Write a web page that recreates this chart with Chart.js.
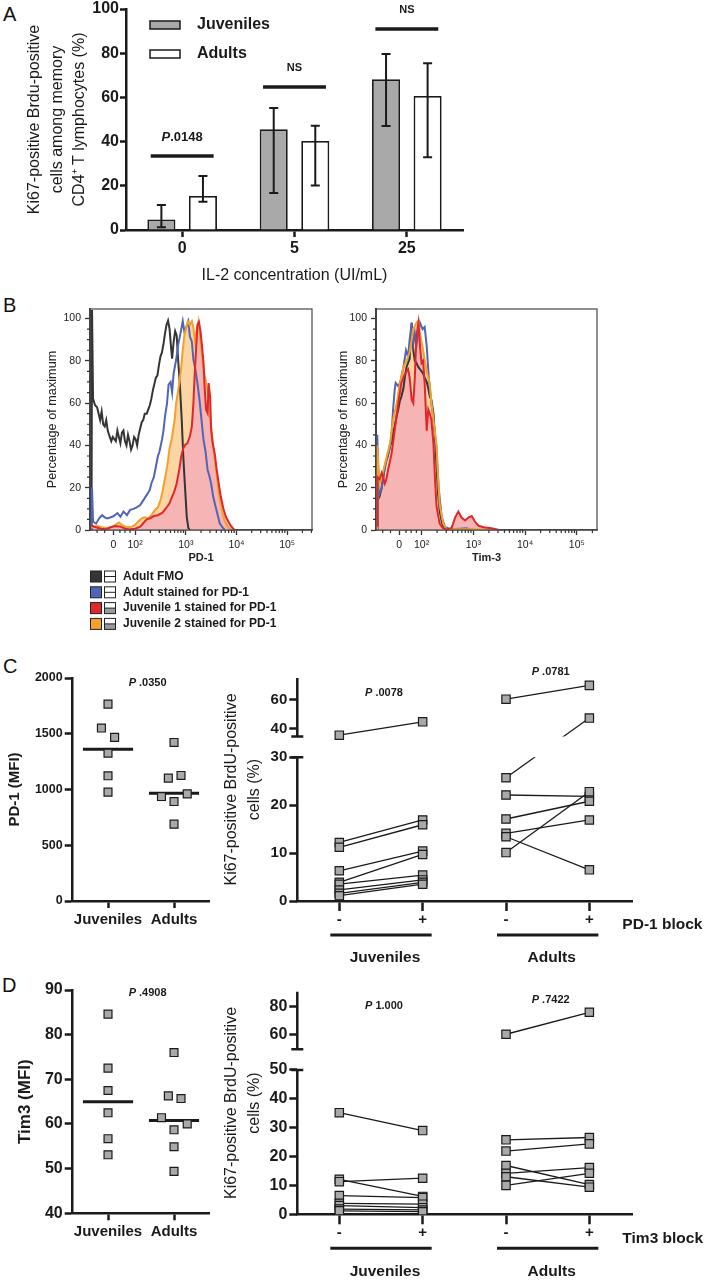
<!DOCTYPE html>
<html>
<head>
<meta charset="utf-8">
<script src="https://cdn.jsdelivr.net/npm/chart.js@4.4.1/dist/chart.umd.min.js"></script>
<style>
  body { margin: 0; background: #fff; }
  #page { position: relative; width: 709px; height: 1280px; font-family: "Liberation Sans", Arial, sans-serif; overflow: hidden; }
  canvas { position: absolute; }
  .letter { position: absolute; font-size: 20px; line-height: 1; color: #111; }
</style>
</head>
<body>
<div id="page">
  <div class="letter" style="left:3px;top:4px">A</div>
  <div class="letter" style="left:3px;top:295px">B</div>
  <div class="letter" style="left:3px;top:656px">C</div>
  <div class="letter" style="left:2px;top:975px">D</div>
  <canvas id="chartA" width="500" height="285" style="left:0;top:0"></canvas>
  <canvas id="histPd1" width="330" height="340" style="left:0;top:295px"></canvas>
  <canvas id="histTim3" width="389" height="280" style="left:320px;top:295px"></canvas>
  <canvas id="dotPd1" width="225" height="300" style="left:0;top:640px"></canvas>
  <canvas id="pairPd1" width="494" height="330" style="left:215px;top:640px"></canvas>
  <canvas id="dotTim3" width="225" height="300" style="left:0;top:950px"></canvas>
  <canvas id="pairTim3" width="494" height="330" style="left:215px;top:950px"></canvas>
</div>
<script>
// ---------- A: IL-2 proliferation ----------
const il2Doses = ['0', '5', '25'];
const juvMean = [4.8, 45.6, 68.2];
const juvLow = [1.2, 16.7, 47.1];
const juvHigh = [11.3, 55.2, 79.6];
const adultMean = [15.4, 40.3, 60.6];
const adultLow = [12.8, 20.1, 32.9];
const adultHigh = [24.4, 47.2, 75.4];
const sigLevel = [33.5, 64.7, 91.0];
const sigText = ['P.0148', 'NS', 'NS'];

// ---------- B: histograms, x in display decades, y in % of max ----------
const histTicks = [1.57, 2, 3, 4, 5];
const histTickLabels = ['0', '10²', '10³', '10⁴', '10⁵'];

const pd1HistFmo = [[1.14,0],[1.15,104],[1.17,62],[1.21,59],[1.25,58],[1.28,55],[1.31,52],[1.34,56],[1.37,50],[1.40,49],[1.43,52],[1.46,47],[1.50,44],[1.53,42],[1.56,44],[1.59,43],[1.62,42],[1.65,47],[1.68,44],[1.71,41],[1.74,46],[1.77,47],[1.80,42],[1.83,40],[1.86,45],[1.89,42],[1.92,38],[1.95,40],[1.98,44],[2.01,43],[2.04,40],[2.07,45],[2.10,48],[2.13,51],[2.16,52],[2.19,55],[2.23,55],[2.26,57],[2.29,59],[2.32,62],[2.35,66],[2.38,69],[2.41,72],[2.44,73],[2.47,78],[2.50,82],[2.53,84],[2.56,88],[2.59,93],[2.62,97],[2.65,99],[2.68,95],[2.71,86],[2.73,81],[2.76,89],[2.79,94],[2.82,92],[2.85,80],[2.88,70],[2.92,52],[2.95,35],[2.99,18],[3.02,6],[3.05,1],[3.08,0]];
const pd1HistAdult = [[1.14,0],[1.15,20],[1.17,4],[1.23,3],[1.29,5.5],[1.35,7],[1.40,6],[1.45,5.5],[1.52,6],[1.58,6.6],[1.65,8],[1.71,6.3],[1.77,8.7],[1.84,7],[1.90,9.5],[1.97,10],[2.03,10.7],[2.10,11.8],[2.16,14],[2.23,16.6],[2.29,19],[2.32,22],[2.37,25],[2.41,30],[2.45,35],[2.48,37],[2.53,42.7],[2.56,47],[2.59,53.7],[2.63,60],[2.66,68.7],[2.70,70],[2.73,65],[2.76,74],[2.81,80.6],[2.85,87.7],[2.89,92.4],[2.94,98.7],[2.97,94],[3.01,96],[3.05,98.7],[3.08,91.6],[3.12,89],[3.15,80.6],[3.19,75.8],[3.23,69.5],[3.27,61.6],[3.31,52],[3.35,42.6],[3.39,37],[3.43,28.4],[3.46,26],[3.50,22],[3.54,15.8],[3.58,11.8],[3.63,7],[3.67,3.2],[3.72,1.3],[3.77,0]];
const pd1HistJuv1 = [[1.14,2],[1.16,1.9],[1.23,1.3],[1.32,0.6],[1.42,0.3],[1.52,1.3],[1.61,1.9],[1.71,1.6],[1.81,0.6],[1.90,0.3],[2.00,0.6],[2.10,1.6],[2.16,3.2],[2.23,5],[2.29,5.5],[2.37,6.6],[2.45,7],[2.54,8.2],[2.61,10.3],[2.68,12.6],[2.73,15.8],[2.77,18],[2.82,22],[2.87,28.4],[2.91,34.8],[2.95,38.7],[2.99,40.3],[3.03,41],[3.08,44.2],[3.12,49],[3.15,60],[3.18,75.8],[3.21,88.5],[3.23,97],[3.26,98.3],[3.29,94],[3.32,87],[3.35,79],[3.37,68],[3.40,57],[3.43,55.3],[3.45,69.5],[3.48,63],[3.50,47.4],[3.53,41],[3.57,36.3],[3.61,28.4],[3.65,22],[3.69,15.8],[3.74,10.3],[3.79,6.3],[3.84,4],[3.89,1.9],[3.95,0.3],[3.98,0]];
const pd1HistJuv2 = [[1.14,1],[1.16,1.3],[1.26,1.9],[1.35,1.3],[1.45,0.8],[1.55,1.6],[1.61,2.4],[1.68,3.5],[1.74,2.4],[1.81,1.6],[1.87,1.3],[1.94,1.6],[2.00,2.4],[2.06,4],[2.13,5.5],[2.19,6],[2.26,5.5],[2.32,7],[2.39,9.5],[2.45,10.7],[2.50,14],[2.54,18],[2.57,22],[2.61,27],[2.65,33],[2.68,38.7],[2.72,42.7],[2.75,47.4],[2.78,52],[2.81,60],[2.85,66],[2.88,71],[2.91,77],[2.94,85],[2.97,91.6],[3.01,96],[3.04,98.7],[3.08,97],[3.12,98.7],[3.15,95.6],[3.18,89],[3.21,94],[3.25,98.7],[3.28,91.6],[3.32,82],[3.35,75.8],[3.39,71],[3.43,66],[3.46,58.5],[3.50,49],[3.54,39.5],[3.58,31.6],[3.62,23.7],[3.66,15.8],[3.71,9.5],[3.76,4.7],[3.81,1.9],[3.87,0.3],[3.92,0]];

const tim3HistFmo = [[1.14,0],[1.15,14],[1.19,16],[1.23,20],[1.26,25],[1.29,30],[1.32,33],[1.35,35],[1.39,40],[1.42,41],[1.45,46],[1.48,49],[1.52,54],[1.55,57],[1.58,61],[1.61,63],[1.65,67],[1.68,72.7],[1.71,77],[1.74,79],[1.77,81],[1.79,90],[1.81,98],[1.84,85],[1.87,80],[1.90,79],[1.94,77],[1.97,76],[2.03,74],[2.06,72],[2.10,70],[2.13,67],[2.16,63],[2.19,61.6],[2.23,55],[2.26,44],[2.29,30],[2.32,17],[2.35,9],[2.39,4],[2.42,1.5],[2.48,0.5],[2.55,0]];
const tim3HistAdult = [[1.14,0],[1.145,45],[1.17,16],[1.23,20],[1.26,25],[1.32,33],[1.39,39],[1.42,45],[1.45,57],[1.48,66],[1.50,69.5],[1.55,68],[1.59,70],[1.65,77],[1.70,85],[1.74,82],[1.77,90],[1.81,98],[1.84,88],[1.87,93],[1.90,87],[1.97,98],[2.02,95],[2.06,96],[2.10,87],[2.14,72],[2.19,60],[2.23,52],[2.29,38],[2.33,20],[2.39,6],[2.45,1.6],[2.55,0.3],[2.74,0.6],[2.87,0.8],[2.94,0.3],[3.00,0]];
const tim3HistJuv1 = [[1.14,2],[1.15,25],[1.19,24],[1.23,27],[1.26,25],[1.29,22],[1.32,24],[1.35,28],[1.42,36],[1.48,47],[1.55,60],[1.61,69.5],[1.68,74],[1.74,76],[1.77,72],[1.81,61.6],[1.84,60],[1.87,72],[1.90,91.6],[1.94,98],[1.97,87],[2.00,79],[2.03,80],[2.06,69.5],[2.10,47],[2.13,57],[2.16,55],[2.19,52],[2.23,41],[2.26,24],[2.29,11],[2.35,3],[2.42,0.8],[2.48,0.3],[2.58,1],[2.65,6],[2.71,8.7],[2.77,6],[2.84,4.5],[2.91,6],[2.97,6.6],[3.03,4],[3.10,2],[3.20,1.3],[3.35,0.8],[3.50,0]];
const tim3HistJuv2 = [[1.14,0],[1.145,40],[1.19,22],[1.26,28],[1.32,34],[1.39,41],[1.45,52],[1.52,60],[1.58,69],[1.65,77],[1.71,80],[1.77,84],[1.84,95],[1.90,98],[1.94,99],[1.97,93],[2.03,85],[2.10,75],[2.16,69],[2.19,60],[2.23,52],[2.29,40],[2.32,25],[2.35,12],[2.42,3],[2.48,0.5],[2.61,0.3],[3.00,0.3],[3.50,0]];

const histLegend = ['Adult FMO', 'Adult stained for PD-1', 'Juvenile 1 stained for PD-1', 'Juvenile 2 stained for PD-1'];

// ---------- C / D: MFI dot plots ----------
const groupNames = ['Juveniles', 'Adults'];
const pd1MfiJuv = [1766, 1551, 1467, 1326, 1123, 976];
const pd1MfiJuvDodge = [0, -0.1, 0.1, 0, 0, 0];
const pd1MfiAdult = [1422, 1126, 1102, 961, 937, 892, 689];
const pd1MfiAdultDodge = [0, 0.106, -0.086, 0.2, -0.19, 0, 0];
const pd1MfiCenter = [1362, 967];

const tim3MfiJuv = [84.6, 72.5, 67.5, 62.5, 56.7, 53.1];
const tim3MfiJuvDodge = [0, 0, 0, 0, 0, 0];
const tim3MfiAdult = [76.0, 66.3, 65.7, 61.4, 60.0, 58.7, 54.9, 49.4];
const tim3MfiAdultDodge = [0, -0.086, 0.106, -0.19, 0.2, 0, 0, 0];
const tim3MfiCenter = [65, 60.8];

// ---------- C / D: blocking, paired values (% Ki67+ BrdU+) ----------
const blockTickLabels = ['-', '+', '-', '+'];
const pd1BlockJuvMinus = [35.3, 12.2, 11.2, 6.3, 3.9, 3.5, 2.3, 1.6, 1.1];
const pd1BlockJuvPlus = [44.6, 16.9, 15.9, 10.4, 9.7, 5.4, 4.4, 3.9, 3.5];
const pd1BlockAdultMinus = [60.4, 25.7, 22.1, 17.1, 14.1, 13.4, 10.1];
const pd1BlockAdultPlus = [70.0, 47.2, 21.8, 20.8, 16.9, 6.5, 22.8];
const pd1BlockTicks = [0, 10, 20, 30, 40, 60];

const tim3BlockJuvMinus = [35.2, 12.1, 11.3, 6.5, 3.8, 3.0, 1.8, 1.2];
const tim3BlockJuvPlus = [29.0, 6.2, 12.5, 5.8, 3.5, 2.3, 1.5, 0.9];
const tim3BlockAdultMinus = [60.5, 25.8, 21.9, 16.9, 14.2, 13.0, 10.0];
const tim3BlockAdultPlus = [76.0, 26.6, 24.4, 10.3, 16.2, 9.4, 14.2];
const tim3BlockTicks = [0, 10, 20, 30, 40, 50, 60, 80];

// ================= drawing =================
const INK = '#1a1a1a';
const MARK = '#a9a9a9';
const FAMILY = '"Liberation Sans", Arial, Helvetica, sans-serif';
Chart.defaults.font.family = FAMILY;
Chart.defaults.color = INK;
Chart.defaults.animation = false;
Chart.defaults.plugins.legend.display = false;
Chart.defaults.plugins.tooltip.enabled = false;

const tickList = vals => s => { s.ticks = vals.map(v => ({ value: v })); };
const noPad = s => { s.paddingLeft = s.paddingRight = s.paddingTop = s.paddingBottom = 0; };

function drawPLabel(ctx, text, cx, cy, size, restWeight) {
  ctx.save();
  ctx.textBaseline = 'middle';
  ctx.textAlign = 'left';
  ctx.fillStyle = INK;
  const head = text.startsWith('P') ? 'P' : '';
  const rest = head ? text.slice(1) : text;
  ctx.font = `italic bold ${size}px ${FAMILY}`;
  const wh = head ? ctx.measureText(head).width : 0;
  ctx.font = `${restWeight} ${size}px ${FAMILY}`;
  const wr = ctx.measureText(rest).width;
  let x = cx - (wh + wr) / 2;
  if (head) {
    ctx.font = `italic bold ${size}px ${FAMILY}`;
    ctx.fillText(head, x, cy);
    x += wh;
  }
  ctx.font = `${restWeight} ${size}px ${FAMILY}`;
  ctx.fillText(rest, x, cy);
  ctx.restore();
}

// ---- A ----
const panelAExtras = {
  id: 'panelAExtras',
  afterDatasetsDraw(chart) {
    const { ctx, scales: { x, y } } = chart;
    const lows = [juvLow, adultLow], highs = [juvHigh, adultHigh];
    ctx.save();
    ctx.strokeStyle = INK;
    ctx.lineWidth = 2;
    [0, 1].forEach(di => {
      chart.getDatasetMeta(di).data.forEach((bar, i) => {
        const y0 = y.getPixelForValue(lows[di][i]), y1 = y.getPixelForValue(highs[di][i]);
        ctx.beginPath();
        ctx.moveTo(bar.x, y0); ctx.lineTo(bar.x, y1);
        ctx.moveTo(bar.x - 4.5, y0); ctx.lineTo(bar.x + 4.5, y0);
        ctx.moveTo(bar.x - 4.5, y1); ctx.lineTo(bar.x + 4.5, y1);
        ctx.stroke();
      });
    });
    const catW = x.getPixelForValue(1) - x.getPixelForValue(0);
    ctx.lineWidth = 3.5;
    il2Doses.forEach((d, i) => {
      const cx = x.getPixelForValue(i), sy = y.getPixelForValue(sigLevel[i]);
      ctx.beginPath();
      ctx.moveTo(cx - 0.28 * catW, sy); ctx.lineTo(cx + 0.28 * catW, sy);
      ctx.stroke();
      drawPLabel(ctx, sigText[i], cx, sy - 19, sigText[i] === 'NS' ? 11 : 13, 'bold');
    });
    // legend
    const rows = [['Juveniles', MARK, 25], ['Adults', '#fff', 54]];
    ctx.lineWidth = 1.5;
    ctx.font = `bold 16px ${FAMILY}`;
    ctx.textBaseline = 'middle';
    rows.forEach(([name, fill, cy]) => {
      ctx.fillStyle = fill;
      ctx.fillRect(150, cy - 4, 30, 8);
      ctx.strokeRect(150, cy - 4, 30, 8);
      ctx.fillStyle = INK;
      ctx.fillText(name, 197, cy);
    });
    ctx.restore();
  }
};

new Chart(document.getElementById('chartA'), {
  type: 'bar',
  data: {
    labels: il2Doses,
    datasets: [
      { label: 'Juveniles', data: juvMean, backgroundColor: MARK, borderColor: INK, borderWidth: 1.8 },
      { label: 'Adults', data: adultMean, backgroundColor: '#fff', borderColor: INK, borderWidth: 1.8 }
    ]
  },
  options: {
    responsive: false,
    layout: { padding: { top: 9, right: 37, left: 0, bottom: 0 } },
    datasets: { bar: { categoryPercentage: 0.74, barPercentage: 0.675 } },
    scales: {
      x: {
        grid: { offset: false, drawOnChartArea: false, tickLength: 7, tickWidth: 2.5, tickColor: INK },
        border: { width: 2.5, color: INK },
        ticks: { font: { size: 16, weight: 'bold' }, padding: 2, color: INK },
        title: { display: true, text: 'IL-2 concentration (UI/mL)', font: { size: 16 }, padding: { top: 4, bottom: 0 }, color: INK },
        afterFit: s => { noPad(s); s.height = 55; }
      },
      y: {
        min: 0, max: 100,
        ticks: { stepSize: 20, font: { size: 16, weight: 'bold' }, padding: 1, color: INK },
        grid: { drawOnChartArea: false, tickLength: 6, tickWidth: 2.5, tickColor: INK },
        border: { width: 2.5, color: INK },
        title: {
          display: true,
          text: ['Ki67-positive Brdu-positive', 'cells among memory', 'CD4⁺ T lymphocytes (%)'],
          font: { size: 16, lineHeight: 1.38 }, padding: { top: 24, bottom: 0 }, color: INK
        },
        afterFit: s => { noPad(s); s.width = 126; }
      }
    }
  },
  plugins: [panelAExtras]
});

// ---- B ----
const FMO_C = '#353535', BLUE_C = '#4f66b6', RED_C = '#e2262a', ORANGE_C = '#f5a02a';

const histDecor = {
  id: 'histDecor',
  afterDraw(chart) {
    const { ctx, chartArea: a, scales: { x, y } } = chart;
    ctx.save();
    ctx.strokeStyle = '#555';
    ctx.lineWidth = 1.3;
    ctx.strokeRect(a.left, a.top, a.right - a.left, a.bottom - a.top);
    ctx.strokeStyle = '#333';
    ctx.lineWidth = 1.2;
    ctx.beginPath();
    for (let v = 5; v < 105; v += 5) {
      if (v % 20 === 0) continue;
      const py = y.getPixelForValue(v);
      ctx.moveTo(a.left, py); ctx.lineTo(a.left - 3, py);
    }
    for (let d = 2; d <= 5; d++) {
      for (let k = 2; k <= 9; k++) {
        const u = d + Math.log10(k);
        if (u > x.max) break;
        const px = x.getPixelForValue(u);
        ctx.moveTo(px, a.bottom); ctx.lineTo(px, a.bottom + 3);
      }
    }
    [1.25, 1.4, 1.7, 1.8, 1.9].forEach(u => {
      const px = x.getPixelForValue(u);
      ctx.moveTo(px, a.bottom); ctx.lineTo(px, a.bottom + 3);
    });
    ctx.stroke();
    ctx.restore();
  }
};

const histLegendPlugin = {
  id: 'histLegend',
  afterDraw(chart) {
    const ctx = chart.ctx;
    const colors = [FMO_C, BLUE_C, RED_C, ORANGE_C];
    ctx.save();
    ctx.font = `bold 12px ${FAMILY}`;
    ctx.textBaseline = 'middle';
    ctx.lineWidth = 1;
    histLegend.forEach((name, i) => {
      const cy = 281.5 + i * 15.8;
      ctx.fillStyle = colors[i];
      ctx.fillRect(90.5, cy - 5.5, 11, 11);
      ctx.strokeStyle = '#222';
      ctx.strokeRect(90.5, cy - 5.5, 11, 11);
      ctx.fillStyle = '#fff';
      ctx.fillRect(104.5, cy - 5.5, 11, 11);
      if (i >= 2) { ctx.fillStyle = '#9a9a9a'; ctx.fillRect(104.5, cy, 11, 5.5); }
      ctx.strokeRect(104.5, cy - 5.5, 11, 11);
      ctx.beginPath(); ctx.moveTo(104.5, cy); ctx.lineTo(115.5, cy); ctx.stroke();
      ctx.fillStyle = INK;
      ctx.fillText(name, 123, cy);
    });
    ctx.restore();
  }
};

function histChart(id, o) {
  const pts = arr => arr.map(p => ({ x: p[0], y: p[1] }));
  const line = (arr, color, order) => ({ data: pts(arr), showLine: true, pointRadius: 0, borderColor: color, borderWidth: 2, tension: 0, fill: false, order });
  const area = (arr, color, order) => ({ data: pts(arr), showLine: true, pointRadius: 0, borderWidth: 0, borderColor: 'rgba(0,0,0,0)', backgroundColor: color, fill: 'origin', order });
  new Chart(document.getElementById(id), {
    type: 'scatter',
    data: {
      datasets: [
        area(o.juv2, '#fcd5a4', 6),
        area(o.juv1, '#f6b4b4', 5),
        line(o.fmo, FMO_C, 4),
        line(o.adult, BLUE_C, 3),
        line(o.juv2, ORANGE_C, 2),
        line(o.juv1, RED_C, 1)
      ]
    },
    options: {
      responsive: false,
      layout: { padding: o.padding },
      scales: {
        x: {
          type: 'linear', min: o.xMin, max: o.xMax,
          afterBuildTicks: tickList(histTicks),
          ticks: { callback: (v, i) => histTickLabels[i], font: { size: 10.5 }, color: '#222', autoSkip: false, maxRotation: 0, padding: 4 },
          grid: { drawOnChartArea: false, tickLength: 5, tickWidth: 1.3, tickColor: '#333' },
          border: { width: 1.5, color: '#333' },
          title: { display: true, text: o.marker, font: { size: 11, weight: 'bold' }, padding: { top: 0, bottom: 10 }, color: '#222' },
          afterFit: s => { noPad(s); s.height = 45; }
        },
        y: {
          min: 0, max: 104.5,
          afterBuildTicks: tickList([0, 20, 40, 60, 80, 100]),
          ticks: { font: { size: 10.5 }, color: '#222', padding: 4 },
          grid: { drawOnChartArea: false, tickLength: 5, tickWidth: 1.3, tickColor: '#333' },
          border: { width: 2, color: '#222' },
          title: { display: true, text: 'Percentage of maximum', font: { size: 12.7 }, padding: { top: o.titlePad, bottom: 0 }, color: '#222' },
          afterFit: s => { noPad(s); s.width = o.yWidth; }
        }
      }
    },
    plugins: o.plugins
  });
}

histChart('histPd1', {
  fmo: pd1HistFmo, adult: pd1HistAdult, juv1: pd1HistJuv1, juv2: pd1HistJuv2, marker: 'PD-1',
  xMin: 1.11, xMax: 5.49, yWidth: 90, titlePad: 45,
  padding: { top: 14, right: 18, left: 0, bottom: 60 },
  plugins: [histDecor, histLegendPlugin]
});
histChart('histTim3', {
  fmo: tim3HistFmo, adult: tim3HistAdult, juv1: tim3HistJuv1, juv2: tim3HistJuv2, marker: 'Tim-3',
  xMin: 1.12, xMax: 5.39, yWidth: 56, titlePad: 16,
  padding: { top: 14, right: 112, left: 0, bottom: 0 },
  plugins: [histDecor]
});

// ---- C/D left: dot plots ----
function dotChart(id, o) {
  const pts = (vals, dodge, c) => vals.map((v, i) => ({ x: c + dodge[i], y: v }));
  const bar = (c, v) => [{ x: c - 0.38, y: v }, { x: c + 0.38, y: v }];
  const pPlugin = {
    id: 'pLabel',
    afterDraw(chart) {
      const { ctx, scales: { x, y } } = chart;
      drawPLabel(ctx, o.pText, x.getPixelForValue(1.6), y.getPixelForValue(o.pY), 11, 'bold');
    }
  };
  new Chart(document.getElementById(id), {
    type: 'scatter',
    data: {
      datasets: [
        { data: pts(o.juv, o.juvDodge, 1).concat(pts(o.adult, o.adultDodge, 2)), pointStyle: 'rect', pointRadius: 5.6,
          pointBackgroundColor: MARK, pointBorderColor: INK, pointBorderWidth: 1.2, order: 1 },
        { data: bar(1, o.center[0]), showLine: true, pointRadius: 0, borderColor: INK, borderWidth: 3, order: 2 },
        { data: bar(2, o.center[1]), showLine: true, pointRadius: 0, borderColor: INK, borderWidth: 3, order: 3 }
      ]
    },
    options: {
      responsive: false,
      layout: { padding: { top: o.top, right: 16, left: 0, bottom: 0 } },
      scales: {
        x: {
          type: 'linear', min: 0.465, max: 2.53,
          afterBuildTicks: tickList([1, 2]),
          ticks: { callback: (v, i) => groupNames[i], font: { size: 15, weight: 'bold' }, color: INK, autoSkip: false, maxRotation: 0, padding: 3 },
          grid: { drawOnChartArea: false, tickLength: 7, tickWidth: 2.5, tickColor: INK },
          border: { width: 2.5, color: INK },
          afterFit: s => { noPad(s); s.height = o.xH; }
        },
        y: {
          min: o.yMin, max: o.yMax,
          afterBuildTicks: tickList(o.ticks),
          ticks: { callback: v => String(v), font: { size: o.tickSize, weight: 'bold' }, color: INK, padding: 2 },
          grid: { drawOnChartArea: false, tickLength: 8, tickWidth: 2.5, tickColor: INK },
          border: { width: 2.5, color: INK },
          title: { display: true, text: o.title, font: { size: o.titleSize, weight: 'bold' }, padding: { top: o.titlePad, bottom: 0 }, color: INK },
          afterFit: s => { noPad(s); s.width = 72.7; }
        }
      }
    },
    plugins: [pPlugin]
  });
}

dotChart('dotPd1', {
  juv: pd1MfiJuv, juvDodge: pd1MfiJuvDodge, adult: pd1MfiAdult, adultDodge: pd1MfiAdultDodge, center: pd1MfiCenter,
  yMin: 0, yMax: 2000, ticks: [0, 500, 1000, 1500, 2000], tickSize: 12.5,
  title: 'PD-1 (MFI)', titleSize: 15, titlePad: 6, top: 38, xH: 39,
  pText: 'P .0350', pY: 1955
});
dotChart('dotTim3', {
  juv: tim3MfiJuv, juvDodge: tim3MfiJuvDodge, adult: tim3MfiAdult, adultDodge: tim3MfiAdultDodge, center: tim3MfiCenter,
  yMin: 40, yMax: 90, ticks: [40, 50, 60, 70, 80, 90], tickSize: 16,
  title: 'Tim3 (MFI)', titleSize: 17, titlePad: 15, top: 40, xH: 36.7,
  pText: 'P .4908', pY: 89.3
});

// ---- C/D right: paired blocking plots with broken y axis ----
function pairedChart(id, o) {
  const b = o.brk;
  const d = v => (v <= b.lowMax ? v : b.gapTop + (v - b.highMin) * b.k);
  const lines = [], marks = [];
  o.groups.forEach((g, gi) => {
    const x0 = 1 + gi * 2;
    g.minus.forEach((v, i) => {
      const p0 = { x: x0, y: d(v) }, p1 = { x: x0 + 1, y: d(g.plus[i]) };
      lines.push({ data: [p0, p1], showLine: true, pointRadius: 0, borderColor: INK, borderWidth: 1.3, pairLine: true, order: 2 });
      marks.push(p0, p1);
    });
  });
  const decor = {
    id: 'breakDecor',
    beforeDatasetDraw(chart, args) {
      if (!chart.data.datasets[args.index].pairLine) return;
      const { ctx, scales: { y } } = chart;
      const yLo = y.getPixelForValue(b.lowMax), yHi = y.getPixelForValue(b.gapTop);
      ctx.save();
      ctx.beginPath();
      ctx.rect(0, 0, chart.width, yHi);
      ctx.rect(0, yLo, chart.width, chart.height - yLo);
      ctx.clip();
    },
    afterDatasetDraw(chart, args) {
      if (chart.data.datasets[args.index].pairLine) chart.ctx.restore();
    },
    afterDraw(chart) {
      const { ctx, chartArea: a, scales: { x, y } } = chart;
      const ax = a.left, yLo = y.getPixelForValue(b.lowMax), yHi = y.getPixelForValue(b.gapTop);
      ctx.save();
      ctx.strokeStyle = INK;
      ctx.lineWidth = 2.5;
      ctx.beginPath();
      ctx.moveTo(ax, a.bottom + 1); ctx.lineTo(ax, yLo);
      ctx.moveTo(ax, yHi); ctx.lineTo(ax, a.top);
      ctx.moveTo(ax - 6, yLo); ctx.lineTo(ax + 6, yLo);
      ctx.moveTo(ax - 6, yHi); ctx.lineTo(ax + 6, yHi);
      ctx.stroke();
      // group underlines and names
      ctx.lineWidth = 3;
      ctx.fillStyle = INK;
      ctx.textBaseline = 'middle';
      ctx.textAlign = 'center';
      ctx.font = `bold 15.5px ${FAMILY}`;
      groupNames.forEach((name, gi) => {
        const x0 = x.getPixelForValue(1 + gi * 2), x1 = x.getPixelForValue(2 + gi * 2);
        ctx.beginPath();
        ctx.moveTo(x0 - 9, a.bottom + 34); ctx.lineTo(x1 + 9, a.bottom + 34);
        ctx.stroke();
        ctx.fillText(name, (x0 + x1) / 2 + 4, a.bottom + 57);
        drawPLabel(ctx, o.pText[gi], (x0 + x1) / 2 + 3, y.getPixelForValue(d(o.pY[gi])), 11, 'bold');
      });
      ctx.textAlign = 'left';
      ctx.font = `bold 15.5px ${FAMILY}`;
      ctx.fillText(o.blockLabel, x.getPixelForValue(4) + 33, a.bottom + 24);
      ctx.restore();
    }
  };
  new Chart(document.getElementById(id), {
    type: 'scatter',
    data: {
      datasets: [
        { data: marks, pointStyle: 'rect', pointRadius: 5.9, pointBackgroundColor: MARK, pointBorderColor: INK, pointBorderWidth: 1.2, order: 1 }
      ].concat(lines)
    },
    options: {
      responsive: false,
      layout: { padding: { top: o.top, right: 76.3, left: 0, bottom: 0 } },
      scales: {
        x: {
          type: 'linear', min: 0.496, max: 4.52,
          afterBuildTicks: tickList([1, 2, 3, 4]),
          ticks: { callback: (v, i) => blockTickLabels[i], font: { size: 15, weight: 'bold' }, color: INK, autoSkip: false, maxRotation: 0, padding: 0 },
          grid: { drawOnChartArea: false, tickLength: 10, tickWidth: 2.5, tickColor: INK },
          border: { width: 2.5, color: INK },
          afterFit: s => { noPad(s); s.height = o.xH; }
        },
        y: {
          min: 0, max: o.yMax,
          afterBuildTicks: tickList(o.ticks.map(d)),
          ticks: { callback: (v, i) => String(o.ticks[i]), font: { size: o.tickSize, weight: 'bold' }, color: INK, padding: 2 },
          grid: { drawOnChartArea: false, tickLength: 8, tickWidth: 2.5, tickColor: INK },
          border: { display: false },
          title: { display: true, text: ['Ki67-positive BrdU-positive', 'cells (%)'], font: { size: 16, lineHeight: 1.45 }, padding: { top: 5, bottom: 0 }, color: INK },
          afterFit: s => { noPad(s); s.width = 82.3; }
        }
      }
    },
    plugins: [decor]
  });
}

pairedChart('pairPd1', {
  groups: [{ minus: pd1BlockJuvMinus, plus: pd1BlockJuvPlus }, { minus: pd1BlockAdultMinus, plus: pd1BlockAdultPlus }],
  brk: { lowMax: 30, highMin: 34.4, gapTop: 34.31, k: 0.2992 },
  yMax: 46.5, ticks: pd1BlockTicks, tickSize: 15, top: 38, xH: 69,
  pText: ['P .0078', 'P .0781'], pY: [65, 79.5], blockLabel: 'PD-1 block'
});
pairedChart('pairTim3', {
  groups: [{ minus: tim3BlockJuvMinus, plus: tim3BlockJuvPlus }, { minus: tim3BlockAdultMinus, plus: tim3BlockAdultPlus }],
  brk: { lowMax: 50, highMin: 49.9, gapTop: 57.16, k: 0.4908 },
  yMax: 77.1, ticks: tim3BlockTicks, tickSize: 16, top: 41.7, xH: 65.7,
  pText: ['P 1.000', 'P .7422'], pY: [80.4, 84.6], blockLabel: 'Tim3 block'
});
</script>
</body>
</html>
